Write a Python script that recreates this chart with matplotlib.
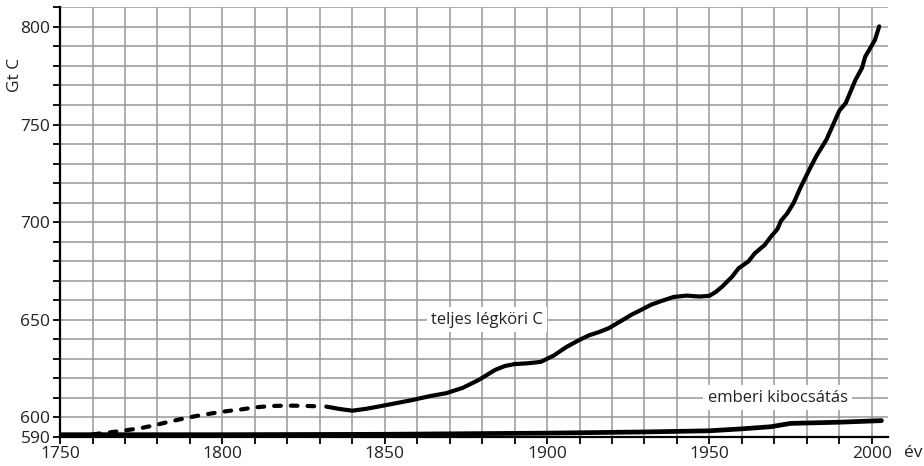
import matplotlib
matplotlib.use("Agg")
import matplotlib.pyplot as plt
from matplotlib.ticker import MultipleLocator, FixedLocator

plt.rcParams["font.family"] = ["Open Sans", "DejaVu Sans"]

# teljes légköri C, dashed (reconstructed) part
years_dashed = [1750, 1755, 1760, 1765, 1770, 1775, 1779, 1783, 1787, 1792,
                1797, 1801, 1806, 1810, 1815, 1820, 1825, 1830]
total_dashed = [590.0, 590.1, 591.2, 592.1, 593.2, 594.4, 595.8, 597.4, 598.9, 600.6,
                602.0, 603.0, 604.0, 605.0, 605.7, 605.9, 605.8, 605.5]

# teljes légköri C, measured part
years_total = [1832, 1836, 1840, 1844, 1848, 1853, 1858, 1864, 1869, 1874,
               1879, 1884, 1887, 1890, 1894, 1898, 1902, 1906, 1910, 1913,
               1916, 1919, 1923, 1926, 1929, 1932, 1935, 1939, 1943, 1947,
               1950, 1952, 1954, 1957, 1959, 1962, 1964, 1967, 1969, 1971,
               1972, 1974, 1976, 1978, 1981, 1983, 1986, 1988, 1990, 1992,
               1993, 1995, 1997, 1998, 2000, 2001, 2002.3]
total_c = [605.4, 604.2, 603.3, 604.2, 605.4, 607.0, 608.6, 610.8, 612.3, 615.0,
           619.1, 624.2, 626.2, 627.2, 627.6, 628.3, 631.5, 636.0, 639.6, 642.0,
           643.6, 645.6, 649.5, 652.5, 655.0, 657.6, 659.4, 661.6, 662.3, 661.8,
           662.2, 664.2, 667.0, 672.0, 676.3, 679.8, 684.0, 688.2, 692.6, 696.5,
           700.5, 704.5, 710.0, 717.5, 727.6, 734.0, 742.1, 749.5, 757.0, 761.0,
           765.0, 772.9, 779.0, 784.8, 790.5, 793.4, 800.3]

# emberi kibocsátás
years_human = [1750, 1800, 1850, 1900, 1930, 1950, 1960, 1969, 1975, 1990, 2003]
human_c = [591.0, 591.0, 591.2, 591.8, 592.4, 593.0, 594.0, 595.1, 596.8, 597.4, 598.2]

fig = plt.figure(figsize=(9.24, 4.66), dpi=100)
ax = fig.add_axes([0.065, 0.063, 0.896, 0.921])

ax.plot(years_dashed, total_dashed, color="black", lw=3, ls=(0, (1.6, 2.4)),
        solid_capstyle="round", dash_capstyle="round", zorder=3)
ax.plot(years_total, total_c, color="black", lw=3, solid_capstyle="round",
        solid_joinstyle="round", zorder=3)
ax.plot(years_human, human_c, color="black", lw=3.4, solid_capstyle="round",
        solid_joinstyle="round", zorder=3)

ax.set_xlim(1750, 2005)
ax.set_ylim(590, 810)

ax.xaxis.set_major_locator(FixedLocator([1750, 1800, 1850, 1900, 1950, 2000]))
ax.xaxis.set_minor_locator(MultipleLocator(10))
ax.yaxis.set_major_locator(FixedLocator([590, 600, 650, 700, 750, 800]))
ax.yaxis.set_minor_locator(MultipleLocator(10))

ax.grid(which="both", color="#999999", lw=1.1, zorder=0)
ax.set_axisbelow(True)

for side in ("top", "right"):
    ax.spines[side].set_visible(False)
for side in ("left", "bottom"):
    ax.spines[side].set_linewidth(1.6)
    ax.spines[side].set_color("black")

ax.tick_params(which="both", direction="out", length=5, width=1.3, color="black",
               labelsize=12.5, labelcolor="#222222")
ax.tick_params(axis="x", pad=1.5)
ax.tick_params(axis="y", pad=2)

box = dict(facecolor="white", edgecolor="none", pad=3)
ax.text(1881.5, 650, "teljes légköri C", ha="center", va="center", fontsize=12,
        color="#222222", bbox=box, zorder=2)
ax.text(1971, 610, "emberi kibocsátás", ha="center", va="center", fontsize=12,
        color="#222222", bbox=box, zorder=2)

fig.text(0.978, 0.028, "év", ha="left", va="center", fontsize=12.5, color="#222222")
fig.text(0.016, 0.84, "Gt C", ha="center", va="center", rotation=90, fontsize=12.5,
         color="#222222")

fig.savefig("out.png", dpi=100)
